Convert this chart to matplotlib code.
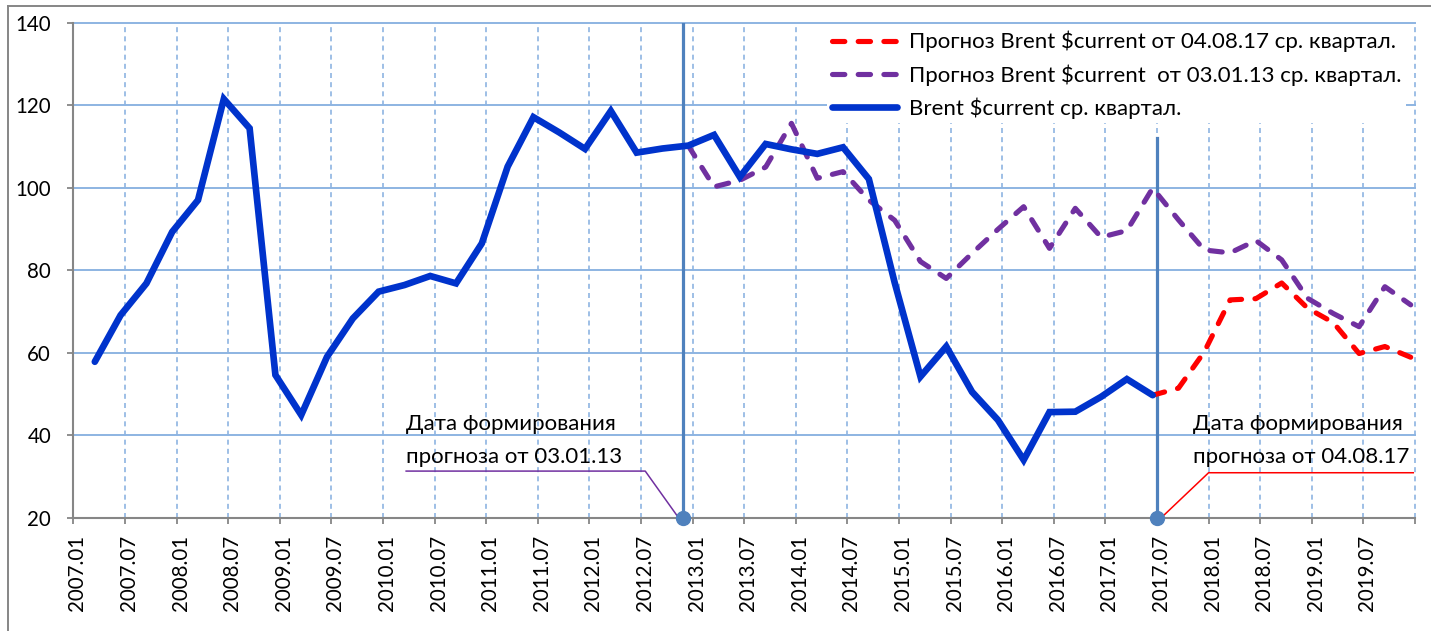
import numpy as np
import matplotlib.pyplot as plt
import matplotlib.transforms as mtransforms
from matplotlib.lines import Line2D

# ==================== Data ====================
# quarterly averages, x = months since 2007.01 (point sits 2.5 months into the quarter)
actual = [57.8, 69.1, 76.8, 89.3, 97.0, 121.5, 114.4, 54.6,
          44.9, 59.0, 68.3, 74.8, 76.4, 78.6, 76.8, 86.5,
          105.1, 117.1, 113.4, 109.4, 118.6, 108.5, 109.5, 110.2,
          112.8, 102.6, 110.6, 109.3, 108.2, 109.8, 102.1, 77.0,
          54.2, 61.5, 50.5, 43.7, 34.0, 45.6, 45.7, 49.3,
          53.6, 49.7]                                  # 2007Q1 .. 2017Q2
fc_2013 = [110.2, 100.2, 101.8, 105.0, 115.6, 102.3, 103.9, 97.0, 92.1,
           82.1, 78.0, 84.1, 89.9, 95.4, 85.3, 95.0, 88.0, 89.6, 99.9,
           92.2, 84.9, 84.2, 87.2, 82.5, 73.2, 69.5, 66.3, 76.0, 71.6]   # 2012Q4 .. 2019Q4
fc_2017 = [49.7, 51.4, 60.2, 72.8, 73.1, 76.9, 70.8, 67.3, 59.8, 61.5, 58.9]  # 2017Q2 .. 2019Q4

tick_labels = [f"{y}.{m:02d}" for y in range(2007, 2020) for m in (1, 7)]
label_actual = r"Brent \$current ср. квартал."
label_2013 = r"Прогноз Brent \$current  от 03.01.13 ср. квартал."
label_2017 = r"Прогноз Brent \$current от 04.08.17 ср. квартал."
note_2013 = ["Дата формирования", "прогноза от 03.01.13"]
note_2017 = ["Дата формирования", "прогноза от 04.08.17"]
mark_2013 = 70.9   # months since 2007.01
mark_2017 = 126.0


def qx(first_q, n):
    # first_q: quarter index from 2007Q1
    return 2.5 + 3 * np.arange(first_q, first_q + n)


x_act = qx(0, len(actual))
x_13 = qx(23, len(fc_2013))
x_17 = qx(41, len(fc_2017))

# ==================== Style ====================
plt.rcParams['font.family'] = ['Lato', 'DejaVu Sans']
GRID = '#8DB4E2'
AXC = '#868686'
BLUE = '#0033CC'
PURPLE = '#7030A0'
RED = '#FF0000'
MARK = '#4F81BD'
FS = 16        # legend / notes
TFS = 14.8     # tick labels

fig = plt.figure(figsize=(14.31, 6.31), dpi=100)
ax = fig.add_axes([73.3 / 1431, 1 - 517.7 / 631, (1415 - 73.3) / 1431, 495 / 631])

ax.set_xlim(0, 156)
ax.set_ylim(20, 140)

# grid
ax.set_yticks(np.arange(20, 141, 20))
ax.set_xticks(np.arange(0, 157, 6))
ax.set_xticklabels(tick_labels + [""], rotation=90, fontsize=TFS)
ax.tick_params(axis='y', labelsize=TFS, length=4.5, width=1.3, color=AXC, pad=11.5)
ax.tick_params(axis='x', length=4.5, width=1.3, color=AXC, pad=8)
for lbl in ax.get_xticklabels():
    lbl.set_transform(lbl.get_transform() + mtransforms.ScaledTranslation(4 / 100, 0, fig.dpi_scale_trans))
for y in np.arange(40, 141, 20):
    ax.axhline(y, color=GRID, lw=1.4, zorder=0.5, clip_on=False)
for x in np.arange(6, 157, 6):
    ax.axvline(x, color=GRID, lw=1.2, ls=(0, (3, 2.5)), zorder=0.5, clip_on=False)
for s in ['top', 'right']:
    ax.spines[s].set_visible(False)
for s in ['left', 'bottom']:
    ax.spines[s].set_color(AXC)
    ax.spines[s].set_linewidth(1.5)

# forecast marker lines
ax.plot([mark_2013, mark_2013], [20, 140], color=MARK, lw=2.3, zorder=1)
ax.plot([mark_2017, mark_2017], [20, 112], color=MARK, lw=2.3, zorder=1)
ax.plot([mark_2013, mark_2017], [20, 20], 'o', color=MARK, ms=10, zorder=6, clip_on=False)

# series
dash = (2.4, 2.6)
ax.plot(x_17, fc_2017, color=RED, lw=3.7, ls=(0, dash), dash_capstyle='round',
        label=label_2017, zorder=3)
ax.plot(x_13, fc_2013, color=PURPLE, lw=3.7, ls=(0, dash), dash_capstyle='round',
        label=label_2013, zorder=3.5)
ax.plot(x_act, actual, color=BLUE, lw=4.8, solid_capstyle='round', solid_joinstyle='miter',
        label=label_actual, zorder=4)

# notes
ax.text(38.7, 41.2, note_2013[0], fontsize=FS, va='baseline', ha='left')
ax.text(38.7, 33.3, note_2013[1], fontsize=FS, va='baseline', ha='left')
ax.plot([38.7, 66.5, 70.3], [31.3, 31.3, 20.2], color=PURPLE, lw=1.1, zorder=2)
ax.text(130.2, 41.2, note_2017[0], fontsize=FS, va='baseline', ha='left')
ax.text(130.2, 33.3, note_2017[1], fontsize=FS, va='baseline', ha='left')
ax.plot([126.6, 132.0, 155.8], [20.2, 30.9, 30.9], color=RED, lw=1.1, zorder=2)

leg = ax.legend(loc='upper left', bbox_to_anchor=(827.5 / 1431, 1 - 26.5 / 631),
                bbox_transform=fig.transFigure, fontsize=FS, frameon=True,
                handlelength=2.93, handletextpad=0.54, labelspacing=0.52,
                borderpad=0.2, borderaxespad=0, fancybox=False)
leg.get_frame().set_edgecolor('none')
leg.get_frame().set_facecolor('white')
leg.get_frame().set_alpha(1)
leg.set_zorder(5)

# chart area border
fig.add_artist(Line2D([8 / 1431, 8 / 1431], [0, 1 - 5.5 / 631], color=AXC, lw=1.4))
fig.add_artist(Line2D([8 / 1431, 1], [1 - 5.5 / 631, 1 - 5.5 / 631], color=AXC, lw=1.4))

fig.savefig("out.png", dpi=100)
